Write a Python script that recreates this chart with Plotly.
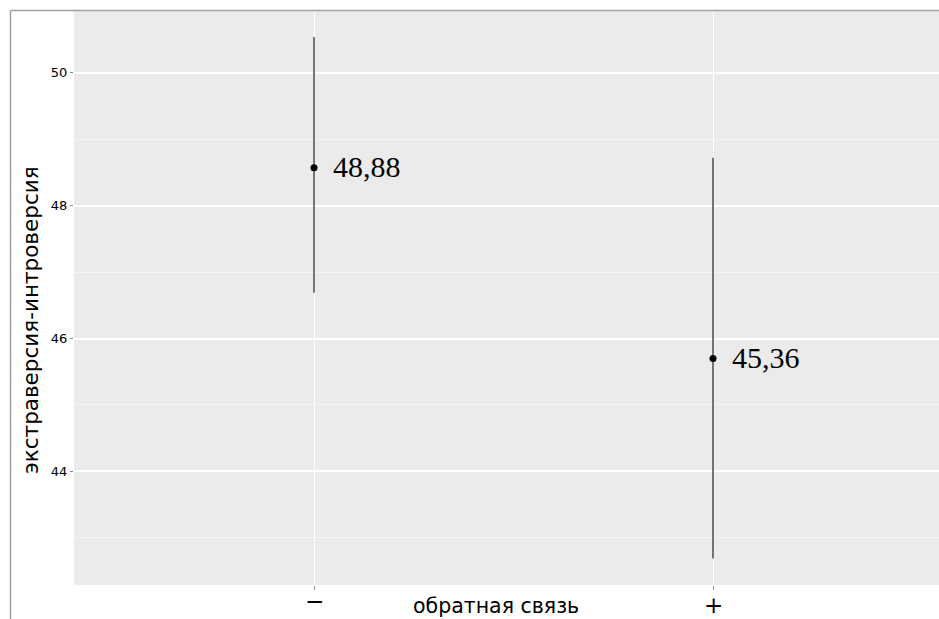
import plotly.graph_objects as go

categories = ["−", "+"]
cat_pos = [1, 2]
means = [48.57, 45.70]
upper = [50.54, 48.72]
lower = [46.69, 42.69]
labels = ["48,88", "45,36"]

W, H = 939, 619
L, R, T, B = 74, 0, 11, 34
pw = W - L - R
ph = H - T - B

fig = go.Figure()
fig.add_trace(go.Scatter(
    x=cat_pos, y=means, mode="markers",
    marker=dict(color="black", size=7),
    error_y=dict(type="data", symmetric=False,
                 array=[u - m for u, m in zip(upper, means)],
                 arrayminus=[m - l for m, l in zip(means, lower)],
                 color="#555555", thickness=1.6, width=0),
    showlegend=False, hoverinfo="skip",
))
for x, y, t in zip(cat_pos, means, labels):
    fig.add_annotation(x=x, y=y, text=t, showarrow=False, xanchor="left",
                       yanchor="middle", xshift=17, yshift=1,
                       font=dict(family="Liberation Serif", size=30, color="black"))

def px2px(p):
    return (p - L) / pw
def py2py(p):
    return (H - B - p) / ph

# outer border lines
fig.add_shape(type="line", xref="paper", yref="paper", x0=px2px(10.5), x1=px2px(W),
              y0=py2py(10.5), y1=py2py(10.5), line=dict(color="#a0a0a0", width=1.5))
fig.add_shape(type="line", xref="paper", yref="paper", x0=px2px(10.5), x1=px2px(10.5),
              y0=py2py(10.5), y1=py2py(H), line=dict(color="#a0a0a0", width=1.5))

# x category labels
for x, c, ypx in zip(cat_pos, categories, [603, 607]):
    fig.add_annotation(x=x, xref="x", yref="paper", y=py2py(ypx), text=c,
                       showarrow=False, xanchor="center", yanchor="middle",
                       yshift=2, font=dict(family="DejaVu Sans", size=23, color="black"))

# axis titles
fig.add_annotation(xref="paper", yref="paper", x=px2px(30), y=py2py(320),
                   text="экстраверсия-интроверсия", textangle=-90, showarrow=False,
                   xanchor="center", yanchor="middle",
                   font=dict(family="DejaVu Sans", size=21.5, color="black"))
fig.add_annotation(xref="paper", yref="paper", x=px2px(496), y=py2py(606),
                   text="обратная связь", showarrow=False,
                   xanchor="center", yanchor="middle",
                   font=dict(family="DejaVu Sans", size=20.5, color="black"))

x0 = 1 - (314 - L) / 399
x1 = 1 + (W - 314) / 399
fig.update_xaxes(range=[x0, x1], tickvals=cat_pos, ticktext=["", ""],
                 showgrid=True, gridcolor="white", gridwidth=1.3,
                 ticks="outside", ticklen=4, tickcolor="#888", tickwidth=1,
                 zeroline=False, showline=False)
fig.update_yaxes(range=[42.29, 50.93], tickvals=[44, 46, 48, 50],
                 tickfont=dict(family="DejaVu Sans", size=13, color="black"),
                 showgrid=True, gridcolor="white", gridwidth=1.5,
                 minor=dict(tickvals=[43, 45, 47, 49], showgrid=True,
                            gridcolor="#f5f5f5", gridwidth=1),
                 ticks="outside", ticklen=3, tickcolor="#888", tickwidth=1,
                 zeroline=False, showline=False)
fig.update_layout(width=W, height=H, margin=dict(l=L, r=R, t=T, b=B, autoexpand=False),
                  paper_bgcolor="white", plot_bgcolor="#ebebeb")
fig.write_html("out.html")
